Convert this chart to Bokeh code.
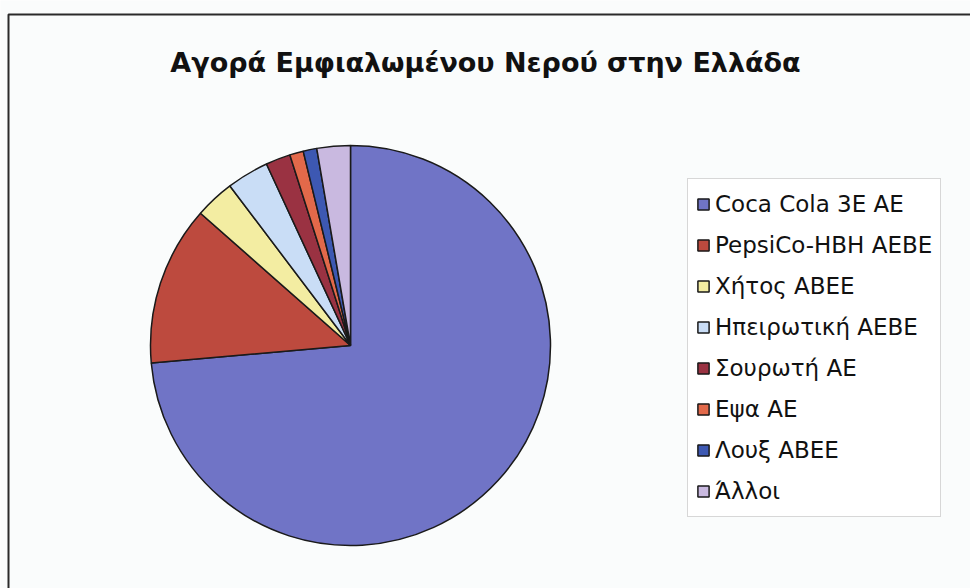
import numpy as np
from bokeh.plotting import figure
from bokeh.models import Range1d, Legend, LegendItem, Label, BoxAnnotation, ColumnDataSource
from bokeh.embed import file_html
from bokeh.resources import INLINE

companies = ["Coca Cola 3E AE", "PepsiCo-HBH AEBE", "Χήτος ABEE", "Ηπειρωτική AEBE",
             "Σουρωτή AE", "Εψα AE", "Λουξ ABEE", "Άλλοι"]
shares = [73.6, 12.9, 3.2, 3.4, 2.0, 1.1, 1.1, 2.7]
colors = ["#7074c6", "#bd4a3e", "#f3eda2", "#c9ddf6", "#9a3242", "#e2694a", "#3d58b2", "#c9b9e0"]
title_text = "Αγορά Εμφιαλωμένου Νερού στην Ελλάδα"

W, H = 970, 588
cx, cy, r = 350, H - 345, 200

vals = np.array(shares, dtype=float)
frac = vals / vals.sum()
cum = np.concatenate([[0], np.cumsum(frac)])
start = np.pi / 2 - cum[:-1] * 2 * np.pi
end = np.pi / 2 - cum[1:] * 2 * np.pi

src = ColumnDataSource(dict(name=companies, start=start, end=end, color=colors,
                            x=[cx] * len(companies), y=[cy] * len(companies)))

p = figure(width=W, height=H, output_backend="svg", toolbar_location=None,
           x_range=Range1d(0, W), y_range=Range1d(0, H),
           min_border=0, min_border_left=0, min_border_right=0,
           min_border_top=0, min_border_bottom=0)
p.axis.visible = False
p.grid.visible = False
p.outline_line_color = None
p.background_fill_color = "#fafcfc"
p.border_fill_color = "#fafcfc"

r_w = p.wedge(x="x", y="y", radius=r, start_angle="start", end_angle="end",
              direction="clock", fill_color="color", line_color="#1a1a1a",
              line_width=1.5, source=src)

# chart frame
p.add_layout(BoxAnnotation(left=8, right=W + 20, top=H - 14, bottom=-20,
                           fill_color=None, fill_alpha=0, line_color="#2a2a2a",
                           line_alpha=1, line_width=2))

p.add_layout(Label(x=485, y=H - 62, text=title_text, text_align="center",
                   text_baseline="middle", text_font="DejaVu Sans",
                   text_font_size="27px", text_font_style="bold", text_color="#111111"))

items = [LegendItem(label=companies[i], renderers=[r_w], index=i) for i in range(len(companies))]
legend = Legend(items=items, location=(687, 71), orientation="vertical",
                label_text_font="DejaVu Sans", label_text_font_size="23px",
                label_text_color="#111111", glyph_width=14, glyph_height=14,
                label_height=34, spacing=7, padding=8, margin=0, label_standoff=5,
                border_line_color="#b0b0b0", border_line_width=1,
                background_fill_color="#ffffff", background_fill_alpha=1)
p.add_layout(legend)

open("out.html", "w").write(file_html(p, INLINE))
